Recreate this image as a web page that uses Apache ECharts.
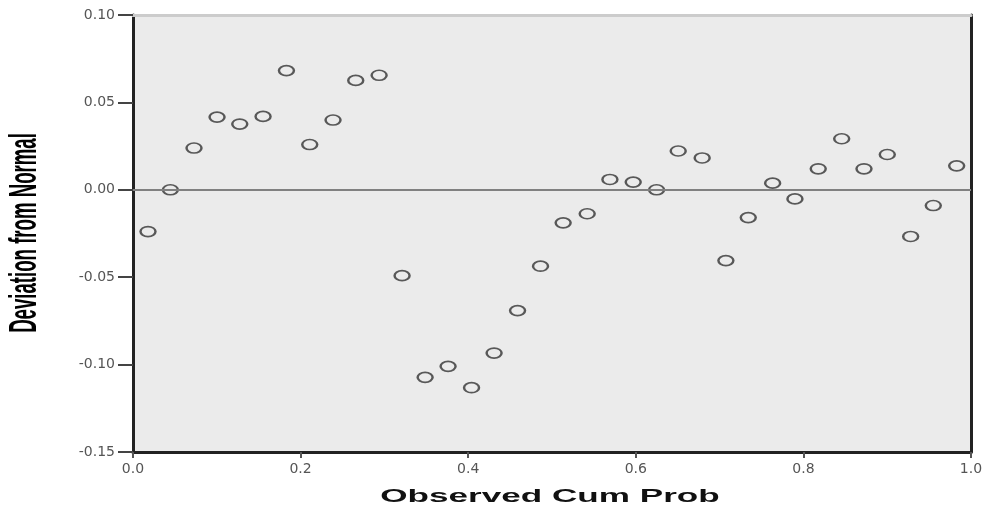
<!DOCTYPE html>
<html>
<head>
<meta charset="utf-8">
<script src="https://cdn.jsdelivr.net/npm/echarts@6/dist/echarts.min.js"></script>
<style>html,body{margin:0;padding:0;background:#fff}#c{width:991px;height:509px}</style>
</head>
<body>
<div id="c"></div>
<script>
// Observed cumulative probability (x) and deviation from normal (y)
const observedCumProb = [0.0179,0.0446,0.0728,0.1003,0.1274,0.1552,0.1831,0.2109,0.2387,0.2658,0.2937,0.3211,0.3486,0.3760,0.4040,0.4309,0.4589,0.4863,0.5133,0.5420,0.5691,0.5969,0.6248,0.6506,0.6792,0.7075,0.7342,0.7633,0.7899,0.8177,0.8457,0.8723,0.9001,0.9280,0.9550,0.9829];
const deviation = [-0.0239,0.0000,0.0239,0.0416,0.0376,0.0420,0.0682,0.0259,0.0399,0.0626,0.0655,-0.0491,-0.1073,-0.1010,-0.1132,-0.0934,-0.0691,-0.0437,-0.0189,-0.0137,0.0059,0.0044,0.0000,0.0222,0.0182,-0.0405,-0.0159,0.0038,-0.0052,0.0120,0.0292,0.0120,0.0202,-0.0267,-0.0090,0.0137];
const xTicks = [0.0,0.2,0.4,0.6,0.8,1.0];
const yTicks = [-0.15,-0.10,-0.05,0.00,0.05,0.10];
const xTitle = 'Observed Cum Prob';
const yTitle = 'Deviation from Normal';

const points = observedCumProb.map((x, i) => [x, deviation[i]]);
const chart = echarts.init(document.getElementById('c'), null, {renderer: 'canvas'});
const labelStyle = {color: '#555', fontFamily: '"DejaVu Sans", "Liberation Sans", Arial, sans-serif', fontSize: 14};

chart.setOption({
  animation: false,
  backgroundColor: '#ffffff',
  grid: {left: 133, right: 20, top: 15, bottom: 57, show: true, backgroundColor: '#ebebeb', borderWidth: 0},
  xAxis: [{
    type: 'value', min: xTicks[0], max: xTicks[xTicks.length - 1], interval: 0.2,
    axisLine: {show: true, onZero: false, lineStyle: {color: '#222', width: 3}},
    axisTick: {show: true, length: 6, lineStyle: {color: '#555', width: 2}},
    axisLabel: Object.assign({margin: 10, formatter: v => v.toFixed(1)}, labelStyle),
    splitLine: {show: false}
  }, {
    type: 'value', position: 'top', min: xTicks[0], max: xTicks[xTicks.length - 1],
    axisLine: {show: true, onZero: false, lineStyle: {color: '#cccccc', width: 3}},
    axisTick: {show: false}, axisLabel: {show: false}, splitLine: {show: false}
  }],
  yAxis: [{
    type: 'value', min: yTicks[0], max: yTicks[yTicks.length - 1], interval: 0.05,
    axisLine: {show: true, onZero: false, lineStyle: {color: '#222', width: 3}},
    axisTick: {show: true, length: 15, lineStyle: {color: '#444', width: 2}},
    axisLabel: Object.assign({margin: 18, formatter: v => v.toFixed(2)}, labelStyle),
    splitLine: {show: false}
  }, {
    type: 'value', position: 'right', min: yTicks[0], max: yTicks[yTicks.length - 1],
    axisLine: {show: true, onZero: false, lineStyle: {color: '#222', width: 3}},
    axisTick: {show: false}, axisLabel: {show: false}, splitLine: {show: false}
  }],
  graphic: [{
    type: 'text', x: 26, y: 233, rotation: Math.PI / 2, scaleX: 0.49,
    style: {text: yTitle, font: 'bold 38px "Liberation Sans", Arial, sans-serif', fill: '#000', align: 'center', verticalAlign: 'middle'}
  }, {
    type: 'text', x: 550, y: 497, scaleX: 1.95,
    style: {text: xTitle, font: 'bold 18px "Liberation Sans", Arial, sans-serif', fill: '#111', align: 'center', verticalAlign: 'middle'}
  }],
  series: [{
    type: 'scatter', data: points,
    symbol: 'circle', symbolSize: [15, 10],
    itemStyle: {color: '#ebebeb', borderColor: '#333', borderWidth: 2},
    markLine: {
      silent: true, symbol: ['none', 'none'], label: {show: false},
      lineStyle: {color: '#808080', width: 2, type: 'solid'},
      data: [{yAxis: 0}]
    },
    z: 3
  }]
});
</script>
</body>
</html>
